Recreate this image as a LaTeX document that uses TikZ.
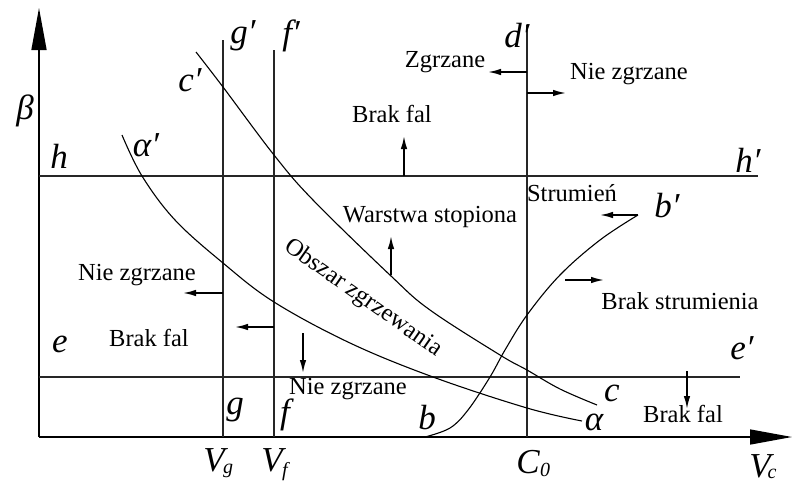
\documentclass[tikz,border=0pt]{standalone}
\usepackage{fontspec}
\setmainfont{Liberation Serif}
\usetikzlibrary{arrows.meta}
\begin{document}
\begin{tikzpicture}[x=1pt,y=-1pt,
  ln/.style={line width=1.3pt, draw=black!85},
  crv/.style={line width=1.1pt, draw=black},
  axis/.style={line width=1.5pt, -{Triangle[length=42pt,width=15pt]}},
  sarr/.style={line width=1.6pt, -{Latex[length=13pt,width=6.5pt]}},
  txt/.style={inner sep=0pt, font=\fontsize{24.5}{28}\selectfont},
  lab/.style={inner sep=0pt, font=\fontsize{35}{40}\selectfont\itshape},
  sub/.style={inner sep=0pt, font=\fontsize{20}{24}\selectfont\itshape}]
\useasboundingbox (0,0) rectangle (793,485);
% axes
\coordinate (O) at (39,437);
\coordinate (Ytip) at (39,8);
\coordinate (Xtip) at (792,437);
\draw[axis] (O) -- (Ytip);
\draw[axis] (O) -- (Xtip);
% straight lines
\coordinate (hL) at (39,176);  \coordinate (hR) at (758,176);
\coordinate (eL) at (39,377);  \coordinate (eR) at (740,377);
\coordinate (gB) at (223,437); \coordinate (gT) at (223,40);
\coordinate (fB) at (274,437); \coordinate (fT) at (274,50);
\coordinate (dB) at (527,437); \coordinate (dT) at (527,25);
\draw[ln] (hL) -- (hR);
\draw[ln] (eL) -- (eR);
\draw[ln] (gB) -- (gT);
\draw[ln] (fB) -- (fT);
\draw[ln] (dB) -- (dT);
% curves
\draw[crv] plot[smooth, tension=0.6] coordinates {(122,135) (142,176) (175,220) (223,263) (274,302) (350,343) (433,377) (527,408) (582,421)};
\draw[crv] plot[smooth, tension=0.6] coordinates {(196,52) (223,87) (274,155) (313,200) (391,276) (430,310) (500,355) (527,370) (560,389) (597,405)};
\draw[crv] plot[smooth, tension=0.6] coordinates {(425,437) (450,428) (468,410) (490,377) (505,350) (527,315) (560,275) (600,240) (638,215)};
% small arrows
\coordinate (a1s) at (527,72);  \coordinate (a1e) at (488,72);
\coordinate (a2s) at (527,93);  \coordinate (a2e) at (566,93);
\coordinate (a3s) at (404,176); \coordinate (a3e) at (404,136);
\coordinate (a4s) at (391,275); \coordinate (a4e) at (391,236);
\coordinate (a5s) at (638,215); \coordinate (a5e) at (600,215);
\coordinate (a6s) at (223,293); \coordinate (a6e) at (183,293);
\coordinate (a7s) at (274,327); \coordinate (a7e) at (235,327);
\coordinate (a8s) at (303,333); \coordinate (a8e) at (303,373);
\coordinate (a9s) at (565,280); \coordinate (a9e) at (604,280);
\coordinate (a10s) at (687,371); \coordinate (a10e) at (687,409);
\foreach \i in {1,...,10} {\draw[sarr] (a\i s) -- (a\i e);}
% region texts
\node[txt] (zg) at (445,62) {Zgrzane};
\node[txt] (nz1) at (629,74) {Nie zgrzane};
\node[txt] (bf1) at (392,114) {Brak fal};
\node[txt] (ws) at (430,217) {Warstwa stopiona};
\node[txt] (st) at (572,193) {Strumień};
\node[txt, rotate=-35] (obs) at (363,298) {Obszar zgrzewania};
\node[txt] (nz2) at (137,275) {Nie zgrzane};
\node[txt] (bf2) at (149,338) {Brak fal};
\node[txt] (bs) at (680,301) {Brak strumienia};
\node[txt] (nz3) at (348,389) {Nie zgrzane};
\node[txt] (bf3) at (683,414) {Brak fal};
% letter labels
\node[lab] (beta) at (25,111) {β};
\node[lab] (h) at (59,156) {h};
\node[lab] (alp1) at (146,145) {α′};
\node[lab] (c1) at (190,80) {c′};
\node[lab] (g1) at (243,36) {g′};
\node[lab] (f1) at (291,36) {f′};
\node[lab] (d1) at (517,36) {d′};
\node[lab] (h1) at (748,160) {h′};
\node[lab] (e) at (60,344) {e};
\node[lab] (e1) at (742,348) {e′};
\node[lab] (b1) at (667,206) {b′};
\node[lab] (g) at (235,410) {g};
\node[lab] (f) at (285,415) {f};
\node[lab] (b) at (427,418) {b};
\node[lab] (c) at (612,393) {c};
\node[lab] (alp) at (594,422) {α};
% axis labels
\node[lab] (Vg) at (214,460) {V};
\node[sub] (Vgs) at (228,471) {g};
\node[lab] (Vf) at (272,460) {V};
\node[sub] (Vfs) at (285,472) {f};
\node[lab] (C0) at (528,462) {C};
\node[sub] (C0s) at (545,470) {0};
\node[lab] (Vc) at (760,466) {V};
\node[sub] (Vcs) at (772,474) {c};
\end{tikzpicture}
\end{document}
